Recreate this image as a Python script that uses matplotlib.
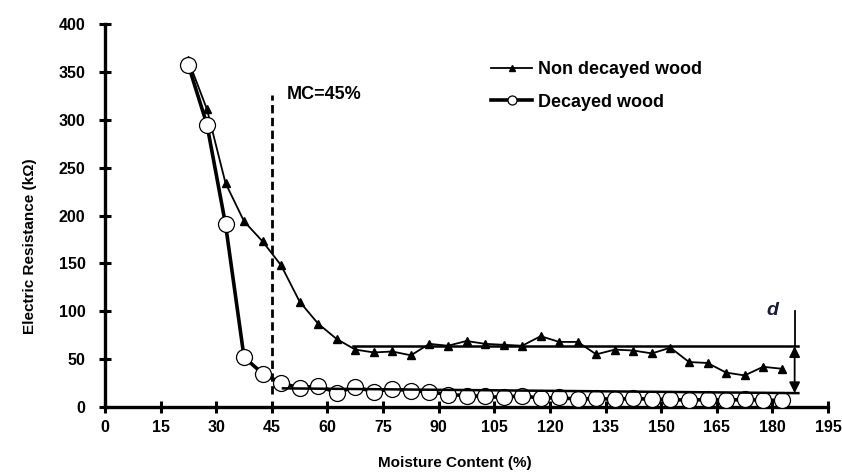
import matplotlib
matplotlib.use("Agg")
import matplotlib.pyplot as plt
from matplotlib.lines import Line2D

plt.rcParams['font.family'] = ['Liberation Sans', 'DejaVu Sans']
plt.rcParams['font.weight'] = 'bold'

# moisture content (%) of each reading
mc = [22.5, 27.5, 32.5, 37.5, 42.5, 47.5, 52.5, 57.5, 62.5, 67.5, 72.5,
      77.5, 82.5, 87.5, 92.5, 97.5, 102.5, 107.5, 112.5, 117.5, 122.5,
      127.5, 132.5, 137.5, 142.5, 147.5, 152.5, 157.5, 162.5, 167.5,
      172.5, 177.5, 182.5]
# electric resistance (kOhm)
non_decayed = [362, 311, 234, 194, 173, 148, 110, 87, 71, 60, 57,
               58, 54, 66, 64, 69, 66, 65, 64, 74, 68,
               68, 55, 60, 59, 56, 62, 47, 46, 36,
               33, 42, 40]
decayed = [357, 295, 191, 52, 35, 25, 20, 22, 15, 21, 16,
           19, 17, 16, 13, 12, 11, 10, 12, 9, 10,
           8, 9, 8, 9, 8, 8, 7, 8, 7,
           8, 7, 7]

# guide lines
mc_line = 45
upper_level = 63.5
lower_level = (19.5, 14.5)

fig = plt.figure(figsize=(8.42, 4.73), dpi=100)
ax = fig.add_axes([0.1247, 0.1395, 0.8587, 0.8095])

ax.plot(mc, non_decayed, color='black', lw=1.3, marker='^', ms=5.5,
        mfc='black', mec='black', zorder=3)
ax.plot(mc, decayed, color='black', lw=2.6, marker='o', ms=11.5,
        mfc='white', mec='black', mew=0.9, zorder=4)

# MC = 45% dashed line
ax.plot([mc_line, mc_line], [14, 326], color='black', lw=2,
        linestyle=(0, (3, 1.6)), zorder=2)
ax.text(49, 327, 'MC=45%', fontsize=13, fontweight='bold', va='center')

# horizontal levels and distance d
ax.plot([67, 187], [upper_level, upper_level], color='black', lw=1.8, zorder=2)
ax.plot([48, 187], list(lower_level), color='black', lw=1.8, zorder=5)
ax.plot([186, 186], [upper_level, 100], color='black', lw=1.3)
ax.annotate('', xy=(186, upper_level), xytext=(186, lower_level[1]),
            arrowprops=dict(arrowstyle='<|-|>', color='black', lw=1.3,
                            mutation_scale=16, shrinkA=0, shrinkB=0))
ax.text(180, 101, 'd', fontsize=14, fontweight='bold', style='italic',
        color='#1a1a3a', ha='center', va='center')

ax.set_xlim(0, 195)
ax.set_ylim(0, 400)
ax.set_xticks(range(0, 196, 15))
ax.set_yticks(range(0, 401, 50))
for s in ['top', 'right']:
    ax.spines[s].set_visible(False)
for s in ['left', 'bottom']:
    ax.spines[s].set_linewidth(2.4)
ax.tick_params(direction='inout', length=8, width=2.2, labelsize=11.5)
ax.tick_params(axis='y', pad=10)
ax.tick_params(axis='x', pad=5)

ax.set_xlabel('Moisture Content (%)', fontsize=11, fontweight='bold')
ax.set_ylabel('Electric Resistance (k\u03a9)', fontsize=11, fontweight='bold')
ax.xaxis.set_label_coords(0.484, -0.128)
ax.yaxis.set_label_coords(-0.094, 0.42)

handles = [Line2D([], [], color='black', lw=1.3, marker='^', ms=5, mfc='black'),
           Line2D([], [], color='black', lw=2.6, marker='o', ms=6.5,
                  mfc='white', mec='black', mew=0.9)]
fig.legend(handles, ['Non decayed wood', 'Decayed wood'], loc='center left',
           bbox_to_anchor=(0.583, 0.818), frameon=False, fontsize=13,
           handlelength=2.3, handletextpad=0.3, labelspacing=0.85,
           borderpad=0, borderaxespad=0)

fig.savefig('out.png', dpi=100)
